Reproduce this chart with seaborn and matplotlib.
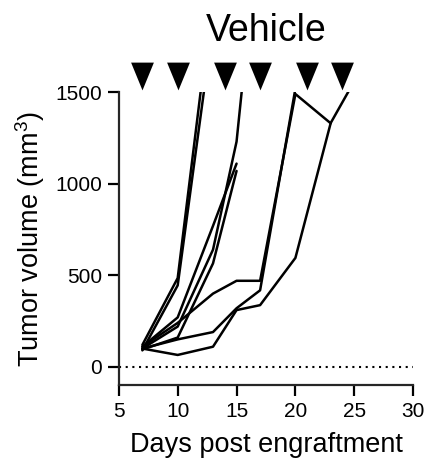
import numpy as np
import pandas as pd
import seaborn as sns
import matplotlib
matplotlib.use("Agg")
from matplotlib import pyplot as plt

# 測定日と各個体の腫瘍体積 (mm3)
days = [7, 10, 13, 15, 17, 20, 23, 25]
nan = np.nan
mouse_a = [120, 485, 2050, nan, nan, nan, nan, nan]
mouse_b = [90, 445, 1870, nan, nan, nan, nan, nan]
mouse_c = [100, 220, 640, 1230, 2480, nan, nan, nan]
mouse_d = [110, 270, 770, 1110, nan, nan, nan, nan]
mouse_e = [95, 160, 565, 1070, nan, nan, nan, nan]
mouse_f = [110, 240, 400, 470, 470, 1490, 1330, nan]
mouse_g = [100, 150, 190, 320, 418, 1520, nan, nan]
mouse_h = [100, 65, 110, 310, 337, 595, 1332, 1560]
mice = {"A": mouse_a, "B": mouse_b, "C": mouse_c, "D": mouse_d,
        "E": mouse_e, "F": mouse_f, "G": mouse_g, "H": mouse_h}

# 投与日 (▼)
dose_days = [7, 10, 14, 17, 21, 24]

rows = []
for name, vals in mice.items():
    for d, v in zip(days, vals):
        if not np.isnan(v):
            rows.append({"mouse": name, "day": d, "volume": v})
df = pd.DataFrame(rows)

sns.set_style("ticks")
plt.rcParams["font.family"] = ["Liberation Sans", "DejaVu Sans"]
plt.rcParams["mathtext.fontset"] = "custom"
plt.rcParams["mathtext.rm"] = "Liberation Sans"
plt.rcParams["mathtext.default"] = "regular"
plt.rcParams["text.color"] = "black"
plt.rcParams["axes.labelcolor"] = "black"

fig = plt.figure(figsize=(4.29, 4.68), dpi=100)
ax = fig.add_axes([0.277, 0.177, 0.686, 0.626])

# 点線 (y=0)
ax.axhline(0, color="black", lw=1.5, ls=(0, (1, 2.2)))

sns.lineplot(data=df, x="day", y="volume", units="mouse", estimator=None,
             color="black", lw=1.8, ax=ax)

tri = [(-0.82, 1), (0.82, 1), (0, -1), (-0.82, 1)]
sns.scatterplot(x=dose_days, y=[1590] * len(dose_days), marker=tri, s=400,
                color="black", linewidth=0, clip_on=False, ax=ax)

ax.set_xlim(5, 30)
ax.set_ylim(-100, 1500)
ax.set_xticks([5, 10, 15, 20, 25, 30])
ax.set_yticks([0, 500, 1000, 1500])
sns.despine(ax=ax)
for s in ["left", "bottom"]:
    ax.spines[s].set_linewidth(1.6)
ax.tick_params(length=8, width=1.6, labelsize=15, pad=4, colors="black")

ax.set_xlabel("Days post engraftment", fontsize=19.5, labelpad=8)
ax.set_ylabel(r"Tumor volume (mm$^3$)", fontsize=19.5, labelpad=6)
ax.set_title("Vehicle", fontsize=27, pad=37)

fig.savefig("out.png", dpi=100)
